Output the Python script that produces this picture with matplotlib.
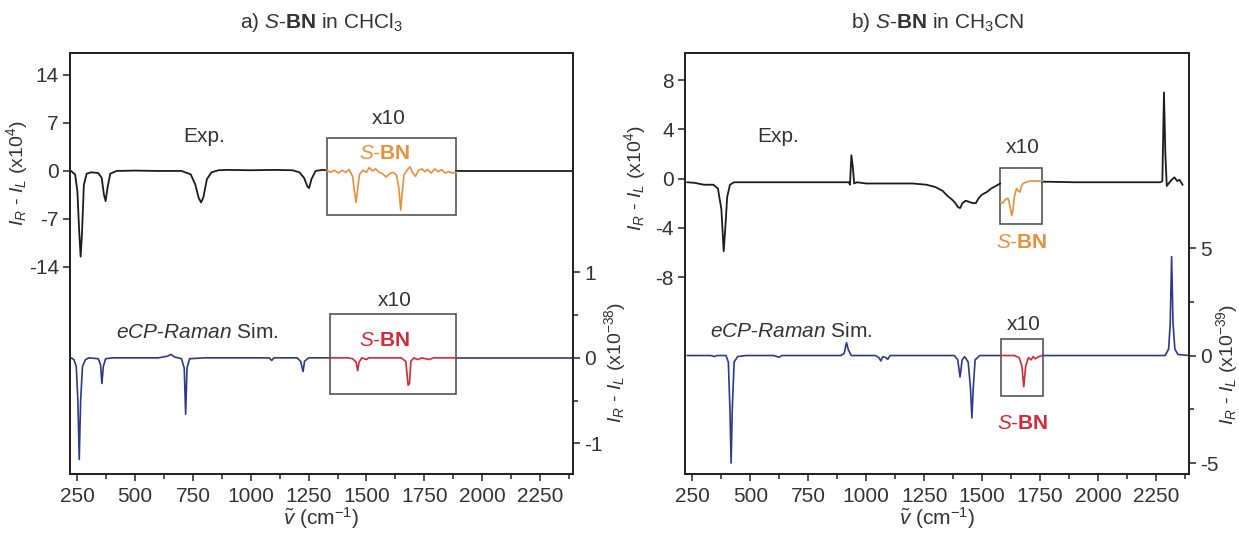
import matplotlib
matplotlib.use("Agg")
import matplotlib.pyplot as plt
from matplotlib.patches import Rectangle
from matplotlib.ticker import FixedLocator

plt.rcParams['font.family'] = ['Liberation Sans', 'DejaVu Sans']
plt.rcParams['mathtext.fontset'] = 'custom'
plt.rcParams['mathtext.rm'] = 'Liberation Sans'
plt.rcParams['mathtext.it'] = 'Liberation Sans:italic'
plt.rcParams['mathtext.bf'] = 'Liberation Sans:bold'
plt.rcParams['axes.unicode_minus'] = False

# ---------------- data: panel a (S-BN in CHCl3) ----------------
a_exp_x = [222, 240, 250, 258, 264, 270, 278, 290, 310, 340, 355, 365, 372, 380, 392, 420, 500,
           600, 700, 740, 760, 775, 785, 795, 810, 830, 860, 900, 1000, 1100, 1180, 1210, 1230,
           1245, 1252, 1262, 1280, 1310, 1328]
a_exp_y = [0, -0.5, -3, -9, -12.5, -9, -2, -0.4, -0.2, -0.3, -1, -3.5, -4.4, -2.5, -0.4, 0, 0.05,
           0, 0, -0.5, -2, -4, -4.6, -3.8, -1.2, -0.2, 0.1, 0.15, 0.1, 0.15, 0.1, -0.2, -1,
           -2.3, -2.5, -1.2, 0, 0.15, 0.1]
a_exp_tail_x = [1888, 2393]
a_exp_tail_y = [0, 0]
a_zoom_x = [1328, 1345, 1360, 1380, 1395, 1410, 1425, 1440, 1448, 1455, 1462, 1470, 1485, 1500,
            1512, 1525, 1540, 1555, 1570, 1585, 1600, 1615, 1630, 1640, 1648, 1655, 1662, 1675,
            1688, 1700, 1712, 1725, 1740, 1752, 1765, 1780, 1795, 1810, 1825, 1840, 1855, 1870, 1888]
a_zoom_y = [0.1, -0.2, 0.1, -0.3, 0.1, -0.2, 0.2, -0.8, -3, -4.6, -2.5, -0.5, 0.1, -0.2,
            0.5, 0.0, 0.3, -0.2, -0.4, -0.9, -0.4, -0.2, -0.6, -2.5, -5.7, -3, -0.6, 0.1,
            0.6, -0.3, -0.8, 0.1, 0.3, -0.1, 0.2, -0.3, 0.3, -0.1, 0.2, -0.3, -0.1, -0.3, -0.2]
a_sim_x = [222, 235, 245, 252, 258, 264, 272, 285, 300, 340, 350, 356, 362, 372, 400, 600, 640,
           655, 670, 700, 712, 718, 724, 735, 800, 1080, 1090, 1100, 1200, 1215, 1226, 1232,
           1250, 1344]
a_sim_y = [0, -0.02, -0.1, -0.5, -1.19, -0.5, -0.1, -0.02, 0, -0.01, -0.08, -0.3, -0.1, -0.01,
           0, 0, 0.02, 0.04, 0.01, -0.01, -0.12, -0.66, -0.12, -0.01, 0, 0, -0.03, 0, 0, -0.04,
           -0.16, -0.04, 0, 0]
a_simz_x = [1344, 1420, 1440, 1455, 1462, 1468, 1480, 1500, 1510, 1650, 1670, 1680, 1686, 1692,
            1705, 1720, 1740, 1770, 1790, 1889]
a_simz_y = [0, 0, -0.01, -0.05, -0.15, -0.05, 0, -0.02, 0, 0, -0.04, -0.32, -0.3, -0.04,
            0.0, -0.02, 0, -0.02, 0, 0]
a_sim_tail_x = [1889, 2393]
a_sim_tail_y = [0, 0]

# ---------------- data: panel b (S-BN in CH3CN) ----------------
b_exp_x = [228, 260, 300, 340, 360, 375, 385, 392, 400, 412, 430, 600, 800, 925, 930, 936, 942,
           948, 960, 1000, 1100, 1200, 1260, 1300, 1330, 1350, 1370, 1385, 1395, 1405, 1415,
           1430, 1445, 1460, 1473, 1485, 1500, 1520, 1540, 1560, 1578]
b_exp_y = [-0.3, -0.35, -0.5, -0.5, -0.8, -2.5, -5.9, -4, -1.5, -0.5, -0.3, -0.3, -0.3, -0.3,
           -0.5, 1.9, 1.0, -0.4, -0.3, -0.4, -0.4, -0.4, -0.5, -0.7, -1.0, -1.4, -1.7, -2.0,
           -2.3, -2.4, -2.0, -1.8, -1.9, -2.0, -2.0, -1.6, -1.3, -1.1, -0.8, -0.6, -0.4]
b_zoom_x = [1580, 1590, 1600, 1612, 1620, 1628, 1633, 1640, 1649, 1656, 1664, 1670, 1677, 1690,
            1707, 1730, 1759]
b_zoom_y = [-1.9, -2.0, -1.7, -1.6, -2.2, -3.0, -2.6, -1.4, -0.8, -1.0, -1.1, -0.6, -0.4, -0.3,
            -0.2, -0.2, -0.2]
b_exp_tail_x = [1759, 1900, 2100, 2270, 2278, 2285, 2291, 2297, 2305, 2318, 2330, 2342, 2352, 2365]
b_exp_tail_y = [-0.25, -0.3, -0.3, -0.3, -0.2, 7.0, 2.0, -0.6, -0.4, -0.1, 0.1, -0.2, -0.1, -0.5]
b_sim_x = [228, 330, 345, 355, 395, 405, 412, 417, 422, 430, 445, 480, 600, 625, 635, 890, 905,
           915, 922, 935, 1040, 1055, 1063, 1072, 1085, 1093, 1103, 1200, 1380, 1395, 1405,
           1414, 1425, 1440, 1450, 1456, 1462, 1470, 1490, 1580]
b_sim_y = [0, 0, -0.05, 0, 0, -0.3, -2.5, -5.0, -2.5, -0.3, -0.05, 0, 0, -0.08, 0, 0, 0.1,
           0.6, 0.3, 0, 0, -0.1, -0.25, -0.05, -0.1, -0.18, 0, 0, 0, -0.2, -1.0,
           -0.2, -0.05, -0.3, -1.5, -2.9, -1.5, -0.2, 0, 0]
b_simz_x = [1580, 1640, 1660, 1672, 1680, 1688, 1700, 1712, 1720, 1730, 1745, 1761]
b_simz_y = [0, 0, -0.1, -0.5, -1.45, -0.5, -0.1, -0.2, -0.05, -0.15, -0.05, 0]
b_sim_tail_x = [1761, 2290, 2305, 2312, 2318, 2324, 2332, 2345, 2393]
b_sim_tail_y = [0, 0, 0.3, 1.5, 4.6, 1.5, 0.3, 0.05, 0]

x_ticks = [250, 500, 750, 1000, 1250, 1500, 1750, 2000, 2250]
a_left_ticks = [14, 7, 0, -7, -14]
a_right_ticks = [1, 0, -1]
a_right_minor = [0.5, -0.5]
b_left_ticks = [8, 4, 0, -4, -8]
b_right_ticks = [5, 0, -5]
b_right_minor = [2.5, -2.5]

# ---------------- styling ----------------
C_EXP = '#1c1c1c'
C_ORANGE = '#E8903C'
C_BLUE = '#2B3A8A'
C_RED = '#D42A38'
C_BOX = '#555555'
FS = 15
FS_R = 14

fig = plt.figure(figsize=(12.39, 5.39), dpi=100)
H = 539.0
W = 1239.0
top_px, bot_px = 53, 474
axA = fig.add_axes([70 / W, 1 - bot_px / H, (573 - 70) / W, (bot_px - top_px) / H])
axB = fig.add_axes([685 / W, 1 - bot_px / H, (1189 - 685) / W, (bot_px - top_px) / H])


def style(ax, twin, left_ticks, right_ticks, right_minor, ylimL, ylimR, title, rlabel):
    ax.set_xlim(218, 2393)
    ax.set_ylim(*ylimL)
    twin.set_ylim(*ylimR)
    ax.xaxis.set_major_locator(FixedLocator(x_ticks))
    ax.xaxis.set_minor_locator(FixedLocator([t + 125 for t in x_ticks]))
    ax.yaxis.set_major_locator(FixedLocator(left_ticks))
    twin.yaxis.set_major_locator(FixedLocator(right_ticks))
    twin.yaxis.set_minor_locator(FixedLocator(right_minor))
    for a in (ax, twin):
        for s in a.spines.values():
            s.set_linewidth(1.3)
            s.set_color('#222222')
    ax.tick_params(axis='both', which='major', direction='out', length=5, width=1.1,
                   labelsize=FS, pad=3, colors='#222222', labelcolor='#333333')
    ax.tick_params(axis='x', which='minor', direction='out', length=3.5, width=1.1,
                   colors='#222222')
    ax.tick_params(axis='x', which='major', pad=4)
    twin.tick_params(axis='y', which='major', direction='out', length=5, width=1.1,
                     labelsize=FS, pad=3, colors='#222222', labelcolor='#333333')
    twin.tick_params(axis='y', which='minor', direction='out', length=3.5, width=1.1,
                     colors='#222222')
    ax.set_xlabel(r'$\tilde{v}$ (cm$^{-1}$)', fontsize=FS, color='#333333', labelpad=0)
    ax.set_title(title, fontsize=FS, color='#333333', pad=18)
    ax.set_ylabel(r'$I_R$ - $I_L$ (x10$^{4}$)', fontsize=FS_R, color='#333333')
    twin.set_ylabel(rlabel, fontsize=FS_R, color='#333333', rotation=90)


# ---------------- panel a ----------------
tA = axA.twinx()
style(axA, tA, a_left_ticks, a_right_ticks, a_right_minor, (-44.2, 17.2), (-1.36, 3.57),
      r'a) $\mathit{S}$-$\mathbf{BN}$ in CHCl$_3$', r'$I_R$ - $I_L$ (x10$^{-38}$)')
axA.yaxis.set_label_coords(-0.08, 0.715)
tA.yaxis.set_label_coords(1.058, 0.264)

axA.plot(a_exp_x, a_exp_y, color=C_EXP, lw=1.3)
axA.plot(a_exp_tail_x, a_exp_tail_y, color=C_EXP, lw=1.3)
axA.plot(a_zoom_x, a_zoom_y, color=C_ORANGE, lw=1.2)
tA.plot(a_sim_x, a_sim_y, color=C_BLUE, lw=1.2)
tA.plot(a_sim_tail_x, a_sim_tail_y, color=C_BLUE, lw=1.2)
tA.plot(a_simz_x, a_simz_y, color=C_RED, lw=1.2)

axA.add_patch(Rectangle((1328, -6.4), 1888 - 1328, 4.8 + 6.4, fill=False, ec=C_BOX, lw=1.2))
tA.add_patch(Rectangle((1344, -0.42), 1889 - 1344, 0.51 + 0.42, fill=False, ec=C_BOX, lw=1.2))

axA.text(800, 5.0, 'Exp.', fontsize=FS, color='#333333', ha='center', va='center')
axA.text(1596, 7.6, 'x10', fontsize=FS, color='#333333', ha='center', va='center')
axA.text(1578, 2.5, r'$\mathit{S}$-$\mathbf{BN}$', fontsize=FS, color=C_ORANGE,
         ha='center', va='center')
tA.text(767, 0.3, r'$\mathit{eCP}$-$\mathit{Raman}$ Sim.', fontsize=FS, color='#333333',
        ha='center', va='center')
tA.text(1622, 0.67, 'x10', fontsize=FS, color='#333333', ha='center', va='center')
tA.text(1578, 0.2, r'$\mathit{S}$-$\mathbf{BN}$', fontsize=FS, color=C_RED,
        ha='center', va='center')

# ---------------- panel b ----------------
tB = axB.twinx()
style(axB, tB, b_left_ticks, b_right_ticks, b_right_minor, (-24.0, 10.2), (-5.51, 14.07),
      r'b) $\mathit{S}$-$\mathbf{BN}$ in CH$_3$CN', r'$I_R$ - $I_L$ (x10$^{-39}$)')
axB.yaxis.set_label_coords(-0.073, 0.703)
tB.yaxis.set_label_coords(1.05, 0.261)

axB.plot(b_exp_x, b_exp_y, color=C_EXP, lw=1.3)
axB.plot(b_exp_tail_x, b_exp_tail_y, color=C_EXP, lw=1.3)
axB.plot(b_zoom_x, b_zoom_y, color=C_ORANGE, lw=1.2)
tB.plot(b_sim_x, b_sim_y, color=C_BLUE, lw=1.2)
tB.plot(b_sim_tail_x, b_sim_tail_y, color=C_BLUE, lw=1.2)
tB.plot(b_simz_x, b_simz_y, color=C_RED, lw=1.2)

axB.add_patch(Rectangle((1578, -3.7), 1759 - 1578, 0.85 + 3.7, fill=False, ec=C_BOX, lw=1.2))
tB.add_patch(Rectangle((1582, -1.88), 1763 - 1582, 0.75 + 1.88, fill=False, ec=C_BOX, lw=1.2))

axB.text(621, 3.4, 'Exp.', fontsize=FS, color='#333333', ha='center', va='center')
axB.text(1677, 2.5, 'x10', fontsize=FS, color='#333333', ha='center', va='center')
axB.text(1672, -5.2, r'$\mathit{S}$-$\mathbf{BN}$', fontsize=FS, color=C_ORANGE,
         ha='center', va='center')
tB.text(677, 1.13, r'$\mathit{eCP}$-$\mathit{Raman}$ Sim.', fontsize=FS, color='#333333',
        ha='center', va='center')
tB.text(1681, 1.45, 'x10', fontsize=FS, color='#333333', ha='center', va='center')
tB.text(1677, -3.15, r'$\mathit{S}$-$\mathbf{BN}$', fontsize=FS, color=C_RED,
        ha='center', va='center')

fig.savefig('out.png', dpi=100)
